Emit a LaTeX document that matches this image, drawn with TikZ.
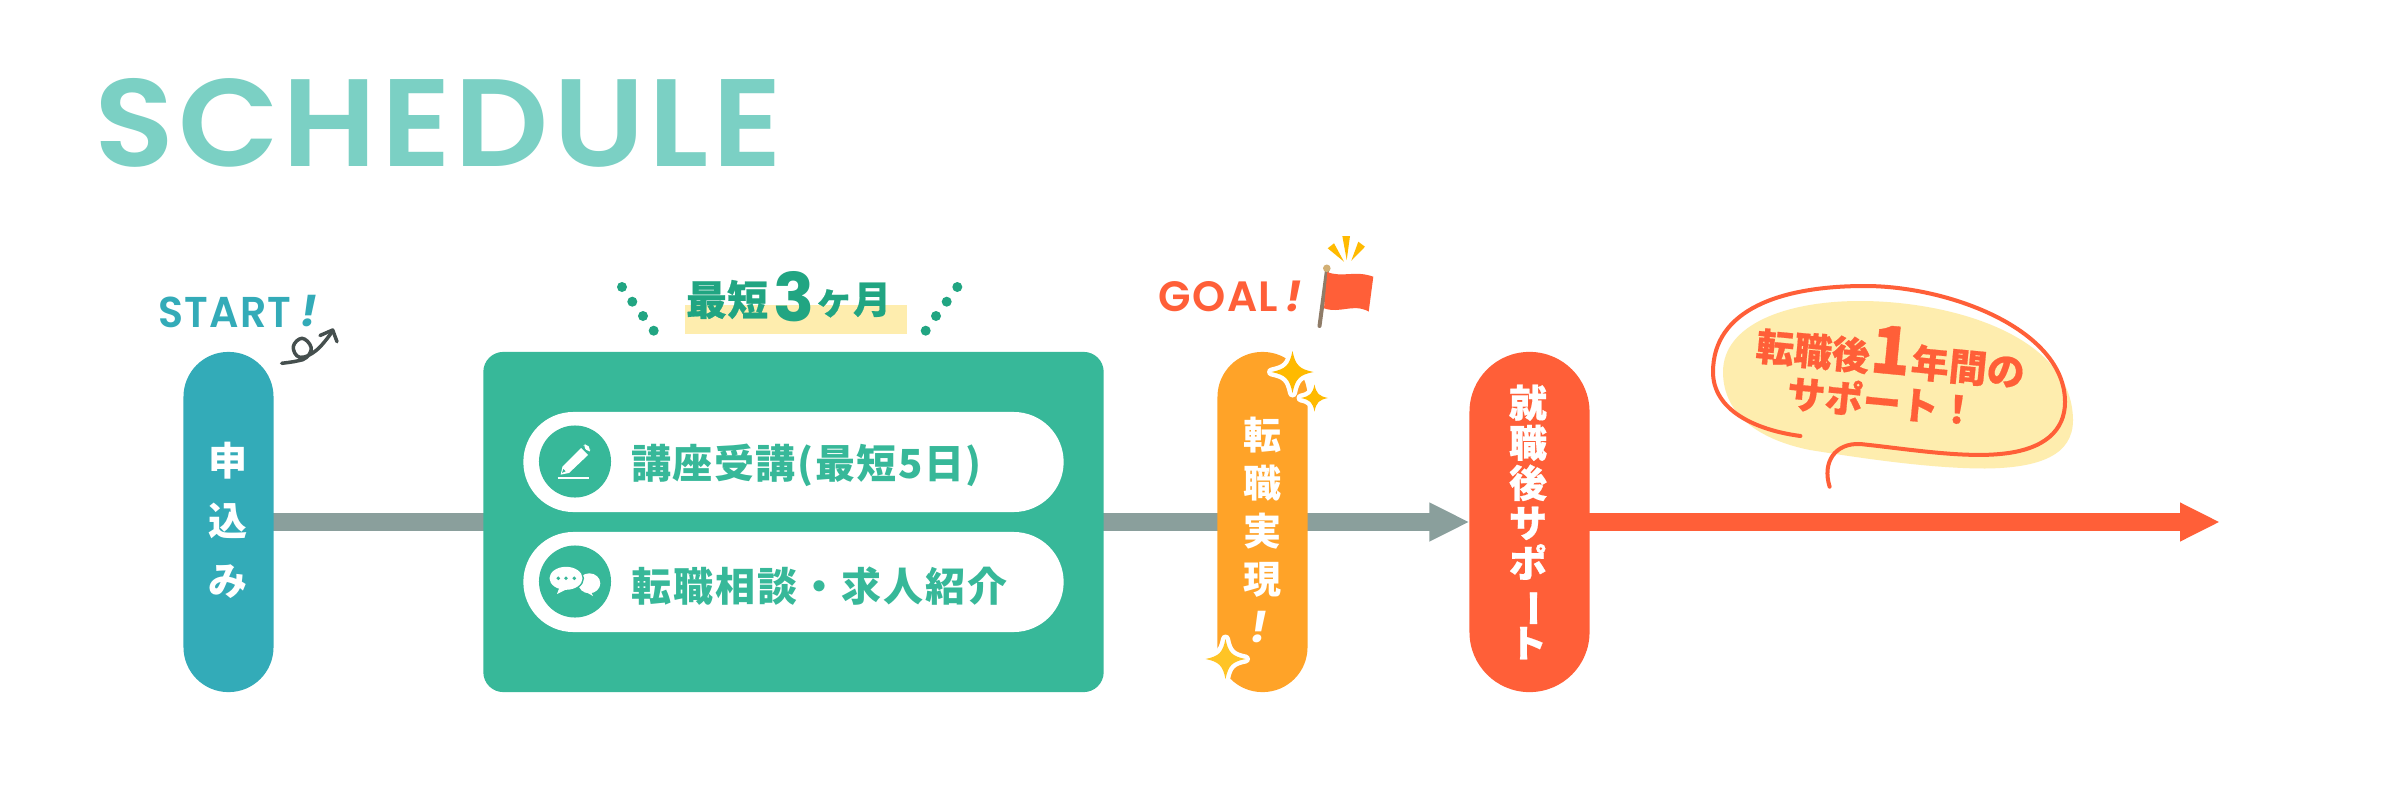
\documentclass[tikz,border=0pt]{standalone}
\usepackage{fontspec}
\usepackage{graphicx}
\usetikzlibrary{arrows.meta}
\setmainfont{Noto Sans CJK JP}
\newfontfamily\cjk{Noto Sans CJK JP}
\newfontfamily\cjkblack{Noto Sans CJK JP Black}
\newfontfamily\cjkheavy[FakeBold=0.5]{Noto Sans CJK JP Black}
\newfontfamily\cjks[LetterSpace=4]{Noto Sans CJK JP}
\newfontfamily\cjksb[LetterSpace=5.2]{Noto Sans CJK JP}
\newfontfamily\semi[LetterSpace=3]{Poppins SemiBold}
\newfontfamily\popi{Poppins}
\newcommand{\pxf}[2]{\fontsize{\fpeval{#1*0.28453}pt}{\fpeval{#2*0.28453}pt}\selectfont}
\setlength{\lineskiplimit}{-100pt}
\definecolor{titlec}{HTML}{7BD0C4}
\definecolor{teal1}{HTML}{33ABB8}
\definecolor{green1}{HTML}{37B899}
\definecolor{green2}{HTML}{21A582}
\definecolor{grayl}{HTML}{8A9F9C}
\definecolor{orange1}{HTML}{FFA328}
\definecolor{red1}{HTML}{FF5F38}
\definecolor{yellow1}{HTML}{FEEDAE}
\definecolor{gold1}{HTML}{FFBA00}
\definecolor{dark1}{HTML}{454F4E}
\newcommand{\spark}[4]{\begin{scope}[shift={(#1,#2)},scale=#3]
\fill[#4,line join=round,preaction={draw=white,line width=.09cm,line join=round}]
 (0,-1) .. controls (.14,-.32) and (.32,-.14) .. (1,0) .. controls (.32,.14) and (.14,.32) .. (0,1)
 .. controls (-.14,.32) and (-.32,.14) .. (-1,0) .. controls (-.32,-.14) and (-.14,-.32) .. (0,-1) -- cycle;
\end{scope}}
\pgfdeclarelayer{bg}
\pgfsetlayers{bg,main}
\tikzset{
 x=0.01cm,y=-0.01cm,
 pill/.style={rectangle,inner sep=0pt,outer sep=0pt,minimum width=#1,minimum height=3.4cm,rounded corners=#1/2-0.001cm},
 whitepill/.style={rectangle,fill=white,inner sep=0pt,minimum width=5.4cm,minimum height=1cm,rounded corners=.4999cm},
 plain/.style={inner sep=0pt,outer sep=0pt},
 vtext/.style={plain,text=white,align=center},
 dot1/.style={circle,fill=green2,inner sep=0pt,minimum size=.1cm},
 icon1/.style={circle,fill=green1,inner sep=0pt,minimum size=.72cm},
 conn/.style={line width=.18cm},
}
\begin{document}
\begin{tikzpicture}
\useasboundingbox (0,0) rectangle (2400,800);
% title
\node[plain,text=titlec] (title) at (438.5,123.3) {\resizebox{6.88cm}{.88cm}{\semi SCHEDULE}};
% main nodes
\node[pill=.9cm,fill=teal1] (start) at (228.5,522) {};
\node[pill=.9cm,fill=orange1] (real) at (1262.5,522) {};
\node[pill=1.2cm,fill=red1] (after) at (1529.5,522) {};
\coordinate (endp) at (2220,522);
% connectors
\begin{pgfonlayer}{bg}
\fill[white] (0,0) rectangle (2400,800);
\draw[conn,grayl,-{Triangle[length=.4cm,width=.36cm]}] ([xshift=-.03cm]start.east) -- (after.west);
\draw[conn,red1,-{Triangle[length=.4cm,width=.36cm]}] ([xshift=-.03cm]after.east) -- (endp);
\end{pgfonlayer}
\node[rectangle,fill=green1,inner sep=0pt,minimum width=6.2cm,minimum height=3.4cm,rounded corners=.2cm] (box) at (793.5,522) {};
\node[whitepill] (p1) at (793.5,462) {};
\node[whitepill] (p2) at (793.5,582) {};
\node[icon1] (i1) at (575,461.5) {};
\node[icon1] (i2) at (575,581.5) {};
% pen icon
\fill[white] (560.7,474.6) -- (562.5,466.5) -- (581,448) -- (588,455) -- (569,473) -- cycle;
\fill[white,rounded corners=1pt] (583,446) -- (586,443.5) -- (591,449) -- (588.5,452.5) -- cycle;
\fill[green1] (562,472.8) -- (563.4,469) -- (565.6,471.4) -- cycle;
\draw[white,line width=.016cm] (557.7,477.7) -- (589.3,477.7);
% chat icon
\fill[white] (589.3,583.3) ellipse [x radius=11,y radius=10];
\fill[white] (590,590) -- (593,596) -- (586,592) -- cycle;
\fill[white,preaction={draw=green1,line width=.03cm}] (566,578.3) ellipse [x radius=16.5,y radius=11.5];
\fill[white] (560,586) -- (557,594) -- (567,589) -- cycle;
\foreach \xx in {558.3,566,574.3} \fill[green1] (\xx,578.3) circle [radius=1.9];
% box texts
\node[plain,anchor=west,text=green1,font=\cjks\bfseries\pxf{40}{48}] (t1) at (631,465) {講座受講(最短5日)};
\node[plain,anchor=west,text=green1,font=\cjksb\bfseries\pxf{40}{48}] (t2) at (631,586) {転職相談・求人紹介};
% badge
\fill[yellow1] (684.7,305) rectangle (906.7,333.7);
\node[plain,anchor=west,text=green2,font=\cjkheavy\pxf{41}{48}] (b1) at (686,299.5) {最短};
\node[plain,anchor=center,text=green2] (b2) at (794,296.2) {\resizebox{.41cm}{.5cm}{\popi\bfseries 3}};
\node[plain,anchor=center,text=green2,font=\cjkheavy\pxf{38}{48}] (b3) at (853,300) {ヶ月};
\foreach \n/\px/\py in {a/622/287,b/632.3/301.7,c/643/316,d/653.7/330.7,e/957.3/287,f/946.7/301.7,g/936/316,h/925.7/330.7}
  \node[dot1] (dot\n) at (\px,\py) {};
% START
\node[plain,text=teal1] (st) at (225,312) {\resizebox{1.33cm}{.305cm}{\semi START}};
\node[plain,text=teal1,font=\popi\bfseries\itshape\pxf{43}{48}] (st2) at (308.5,311.5) {!};
\draw[dark1,line width=.035cm,line cap=round,line join=round] plot[smooth,tension=.7] coordinates {(281.7,363.3) (297,361) (306.7,357.3) (311,347) (302,338.3) (293.3,346.7) (300,357.3) (316.7,350) (332.7,331)};
\draw[dark1,line width=.035cm,line cap=round,line join=round] (320,335.5) -- (332.7,330) -- (337,341.7);
\node[vtext,font=\cjk\bfseries\pxf{39}{60}] (stt) at (228.5,520) {申\\込\\み};
% GOAL
\node[plain,text=red1] (go) at (1218.5,296.5) {\resizebox{1.19cm}{.30cm}{\semi GOAL}};
\node[plain,text=red1,font=\popi\bfseries\itshape\pxf{42}{48}] (go2) at (1293.5,296) {!};
% flag
\draw[color={rgb,255:red,143;green,124;blue,104},line width=.04cm,line cap=round] (1327,270) -- (1319.5,326);
\fill[color={rgb,255:red,210;green,175;blue,116}] (1326.8,268.3) circle [radius=3.8];
\fill[red1] (1327.3,272) .. controls (1342,278) and (1355,270) .. (1373.3,276.7) -- (1368.7,311.5) .. controls (1353,303) and (1340,314) .. (1324,308.3) -- cycle;
\fill[gold1] (1342.3,236) -- (1350,236) -- (1346.7,260) -- cycle;
\fill[gold1] (1327.7,248.3) -- (1334,243.3) -- (1344,261.7) -- cycle;
\fill[gold1] (1358.3,241.7) -- (1365,246.7) -- (1351.3,260.7) -- cycle;
% orange text
\node[vtext,font=\cjkblack\pxf{38}{48}] (rt) at (1262,507) {転\\職\\実\\現};
\node[plain,text=white,font=\popi\bfseries\itshape\pxf{43}{48}] (rt2) at (1259,627) {!};
\spark{1292.5}{372}{21}{gold1}
\spark{1314.5}{398}{13.5}{gold1}
\spark{1225.5}{659}{20}{gold1!85!white}
% red text
\node[vtext,font=\cjkheavy\pxf{38}{40}] (at) at (1528,522) {就\\職\\後\\サ\\ポ\\\rotatebox[origin=c]{-90}{ー}\\ト};
% bubble
\fill[yellow1] (1723,372) .. controls (1723,325) and (1785,301) .. (1860,301) .. controls (1950,301) and (2072,335) .. (2073,420) .. controls (2073,455) and (2040,468) .. (1985,468.5) .. controls (1930,468.5) and (1860,458) .. (1810,450) .. controls (1760,440) and (1723,415) .. (1723,372) -- cycle;
\draw[red1,line width=.04cm,line cap=round] (1800.4,436) .. controls (1755,430) and (1713,410) .. (1713,372) .. controls (1713,310) and (1780,286) .. (1865,286) .. controls (1950,286) and (2065,330) .. (2065,402) .. controls (2065,430) and (2045,450) .. (2000,454) .. controls (1960,458) and (1900,448) .. (1860,444) .. controls (1835,443) and (1822,462) .. (1829.6,486.7);
\node[plain,text=red1,rotate=-5.5,font=\cjkheavy\pxf{38}{40}] (s1) at (1813,351) {転職後};
\node[plain,text=red1,rotate=-5.5,font=\cjkheavy\pxf{66}{66}] (s2) at (1891,350) {1};
\node[plain,text=red1,rotate=-5.5,font=\cjkheavy\pxf{38}{40}] (s3) at (1968,367) {年間の};
\node[plain,text=red1,rotate=-5.5,font=\cjkheavy\pxf{38}{40}] (s4) at (1882,401) {サポート！};
\end{tikzpicture}
\end{document}
